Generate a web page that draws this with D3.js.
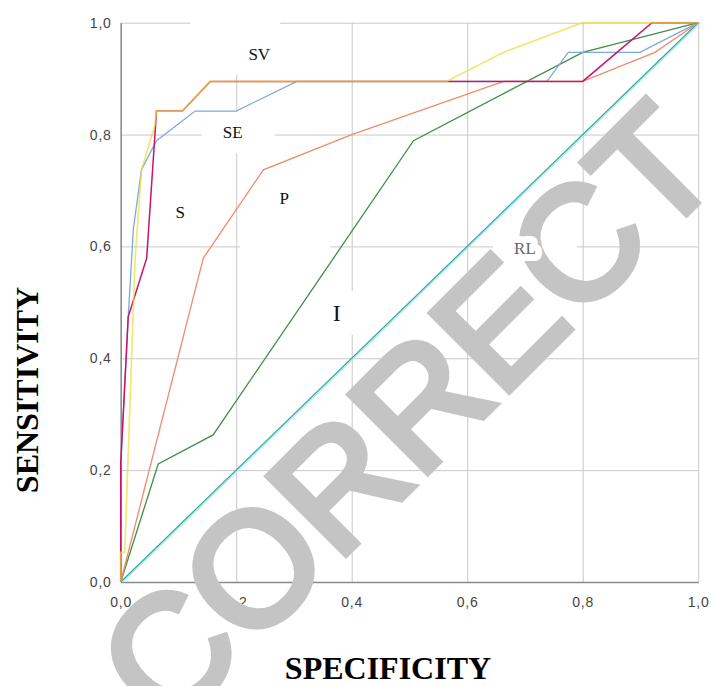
<!DOCTYPE html>
<meta charset="utf-8">

<head>
  <script src="https://d3js.org/d3.v7.min.js"></script>
  <style>
    body { margin: 0; background: #fff; }
    .tick text { font-family: "Liberation Sans", Arial, sans-serif; font-size: 14px; letter-spacing: 0.8px; fill: #444; }
  </style>
</head>

<body>
  <svg id="root"></svg>

  <script>
    // ROC curves: [1 - specificity, sensitivity]
    const curveSE = [[0, 0], [0, 0.21], [0.013, 0.474], [0.022, 0.632], [0.036, 0.737], [0.062, 0.789],
      [0.129, 0.842], [0.2, 0.842], [0.305, 0.895], [0.738, 0.895], [0.775, 0.947], [0.899, 0.947], [1, 1]];
    const curveS = [[0, 0], [0, 0.21], [0.013, 0.474], [0.045, 0.579], [0.062, 0.842], [0.107, 0.842],
      [0.155, 0.895], [0.8, 0.895], [0.92, 1], [1, 1]];
    const curveSV = [[0, 0], [0, 0.053], [0.007, 0.053], [0.025, 0.579], [0.036, 0.737], [0.059, 0.816],
      [0.062, 0.842], [0.107, 0.842], [0.155, 0.895], [0.564, 0.895], [0.663, 0.947], [0.8, 1], [1, 1]];
    const curveP = [[0, 0], [0.143, 0.579], [0.247, 0.737], [0.4, 0.8], [0.663, 0.895], [0.8, 0.895],
      [0.925, 0.947], [1, 1]];
    const curveI = [[0, 0], [0.065, 0.211], [0.16, 0.263], [0.507, 0.789], [0.8, 0.947], [1, 1]];
    const curveRL = [[0, 0], [1, 1]];

    const tickValues = [0, 0.2, 0.4, 0.6, 0.8, 1.0];
    const labelNames = ["SV", "SE", "S", "P", "I", "RL"];
    const labelSpots = [[0.24, 0.943], [0.194, 0.803], [0.103, 0.66], [0.283, 0.685], [0.374, 0.481], [0.70, 0.596]];

    const W = 711, H = 686;
    const margin = { top: 22.7, left: 120.7 },
      width = 577.5,
      height = 559.3;

    const root = d3.select("#root").attr("width", W).attr("height", H);
    const svg = root.append("g")
      .attr("transform", `translate(${margin.left},${margin.top})`);

    const x = d3.scaleLinear([0, 1], [0, width]);
    const y = d3.scaleLinear([0, 1], [height, 0]);
    const fmt = d => d3.format(".1f")(d).replace(".", ",");

    // grid
    svg.append("g")
      .attr("transform", `translate(0,${height})`)
      .call(d3.axisBottom(x).tickValues(tickValues).tickSize(-height).tickFormat(""))
      .call(g => g.select(".domain").remove())
      .call(g => g.selectAll("line").attr("stroke", "#c9c9c9"));
    svg.append("g")
      .call(d3.axisLeft(y).tickValues(tickValues).tickSize(-width).tickFormat(""))
      .call(g => g.select(".domain").remove())
      .call(g => g.selectAll("line").attr("stroke", "#c9c9c9"));

    // white text boxes behind the labels (padding in px: left, right, top, bottom)
    const boxPad = { SV: [69, 21, 45, 20], SE: [31, 42, 21, 20], S: [18, 18, 18, 18],
      P: [44, 46, 34, 51], I: [18, 18, 22, 22], RL: [32, 52, 19, 13] };
    svg.selectAll("rect.box").data(labelNames).join("rect")
      .attr("class", "box")
      .attr("x", (d, i) => x(labelSpots[i][0]) - boxPad[d][0])
      .attr("y", (d, i) => y(labelSpots[i][1]) - boxPad[d][2])
      .attr("width", d => boxPad[d][0] + boxPad[d][1])
      .attr("height", d => boxPad[d][2] + boxPad[d][3])
      .attr("fill", "#fff");

    // axes
    svg.append("g")
      .attr("transform", `translate(0,${height})`)
      .call(d3.axisBottom(x).tickValues(tickValues).tickSize(0).tickPadding(15).tickFormat(fmt))
      .call(g => g.select(".domain").attr("stroke", "#8a8a8a").attr("stroke-width", 1.5));
    svg.append("g")
      .call(d3.axisLeft(y).tickValues(tickValues).tickSize(0).tickPadding(9).tickFormat(fmt))
      .call(g => g.select(".domain").attr("stroke", "#8a8a8a").attr("stroke-width", 1.5));

    const line = d3.line()
      .x(d => x(d[0]))
      .y(d => y(d[1]));

    const series = [
      { data: curveRL, color: "#a8f0f0", width: 1.3, dx: 2 },
      { data: curveRL, color: "#3aa8a0", width: 1.3, dx: 0 },
      { data: curveI, color: "#3f8f45", width: 1.3, dx: 0 },
      { data: curveP, color: "#f08a6a", width: 1.3, dx: 0 },
      { data: curveSE, color: "#7ea8dc", width: 1.3, dx: 0 },
      { data: curveS, color: "#c8146a", width: 1.5, dx: 0 },
      { data: curveSV, color: "#eedc3a", width: 1.7, dx: 0, opacity: 0.7 }
    ];

    svg.selectAll("path.roc").data(series).join("path")
      .attr("class", "roc")
      .attr("fill", "none")
      .attr("stroke", d => d.color)
      .attr("stroke-width", d => d.width)
      .attr("stroke-opacity", d => d.opacity || 1)
      .attr("transform", d => `translate(${d.dx},0)`)
      .attr("d", d => line(d.data));

    // axis titles
    root.append("text")
      .attr("x", 388)
      .attr("y", 679)
      .attr("text-anchor", "middle")
      .attr("font-family", "'Liberation Serif', 'Times New Roman', serif")
      .attr("font-weight", "bold")
      .attr("font-size", 32)
      .attr("fill", "#000")
      .text("SPECIFICITY");

    root.append("text")
      .attr("transform", "translate(38,390) rotate(-90)")
      .attr("text-anchor", "middle")
      .attr("font-family", "'Liberation Serif', 'Times New Roman', serif")
      .attr("font-weight", "bold")
      .attr("font-size", 32)
      .attr("fill", "#000")
      .text("SENSITIVITY");

    // watermark over the chart
    root.append("text")
      .attr("transform", "translate(167,733) rotate(-45)")
      .attr("font-family", "'Liberation Sans', Arial, sans-serif")
      .attr("font-size", 160)
      .attr("fill", "#c4c4c4")
      .attr("stroke", "#c4c4c4")
      .attr("stroke-width", 7)
      .text("CORRECT");

    // curve labels sit on top of everything, each on a small white patch
    const labels = root.append("g")
      .attr("transform", `translate(${margin.left},${margin.top})`);
    labels.selectAll("text.lab").data(labelNames).join("text")
      .attr("class", "lab")
      .attr("x", (d, i) => x(labelSpots[i][0]))
      .attr("y", (d, i) => y(labelSpots[i][1]))
      .attr("text-anchor", "middle")
      .attr("dominant-baseline", "central")
      .attr("font-family", "'Liberation Serif', 'Times New Roman', serif")
      .attr("font-size", d => d === "I" ? 24 : 17)
      .attr("fill", d => d === "RL" ? "#666" : "#111")
      .attr("paint-order", "stroke")
      .attr("stroke", "#fff")
      .attr("stroke-width", 14)
      .attr("stroke-linejoin", "round")
      .text(d => d);
  </script>
</body>
